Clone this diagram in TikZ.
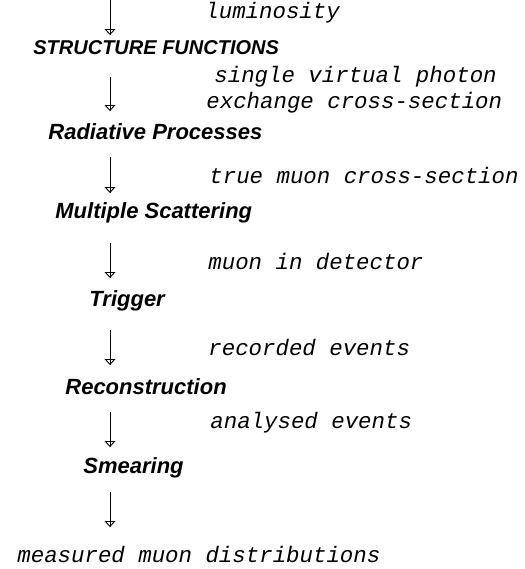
\documentclass[tikz,border=0pt]{standalone}
\usepackage{fontspec}
\setmainfont{Liberation Sans}
\newfontfamily\flowmono{Liberation Mono}
\usetikzlibrary{calc}
\usetikzlibrary{arrows.meta}

\tikzset{
 stage/.style={anchor=west, inner sep=0, font=\fontsize{11}{13}\selectfont\bfseries\itshape},
 quantity/.style={anchor=west, inner sep=0, font=\fontsize{11.2}{13}\selectfont\flowmono\itshape},
 flow/.style={line width=.5pt, -{Triangle[open, width=5.5pt, length=3pt, line width=.45pt]}}
}

\begin{document}
\begin{tikzpicture}[x=.5pt, y=-.5pt]
\useasboundingbox (0,0) rectangle (525,569);
% stages of the simulation
\node[stage, font=\fontsize{10}{12}\selectfont\bfseries\itshape] (sf) at (33,48) {STRUCTURE FUNCTIONS};
\node[stage] (rad)   at (48,132)  {Radiative Processes};
\node[stage] (ms)    at (55,213)  {Multiple Scattering};
\node[stage] (trig)  at (89,301)  {Trigger};
\node[stage] (reco)  at (65,387)  {Reconstruction};
\node[stage] (smear) at (83,468)  {Smearing};
% what passes between them
\node[quantity] (lumi)  at (205,13)  {luminosity};
\node[quantity] (svp)   at (214,77)  {single virtual photon};
\node[quantity] (exch)  at (206,103) {exchange cross-section};
\node[quantity] (truemu) at (209,175) {true muon cross-section};
\node[quantity] (indet) at (208,262) {muon in detector};
\node[quantity] (rec)   at (208,348) {recorded events};
\node[quantity] (ana)   at (210,423) {analysed events};
\node[quantity] (meas)  at (17,555)  {measured muon distributions};
\foreach \top/\tip [count=\i] in {0/35, 77/111, 157/193, 243/278, 330/365, 412/447, 492/527} {
 \coordinate (s\i) at (110,\top);
 \coordinate (t\i) at (110,\tip);
 \draw[flow] (s\i) -- (t\i);
 \draw[line width=.5pt] (s\i) -- (t\i);
}
\end{tikzpicture}
\end{document}
